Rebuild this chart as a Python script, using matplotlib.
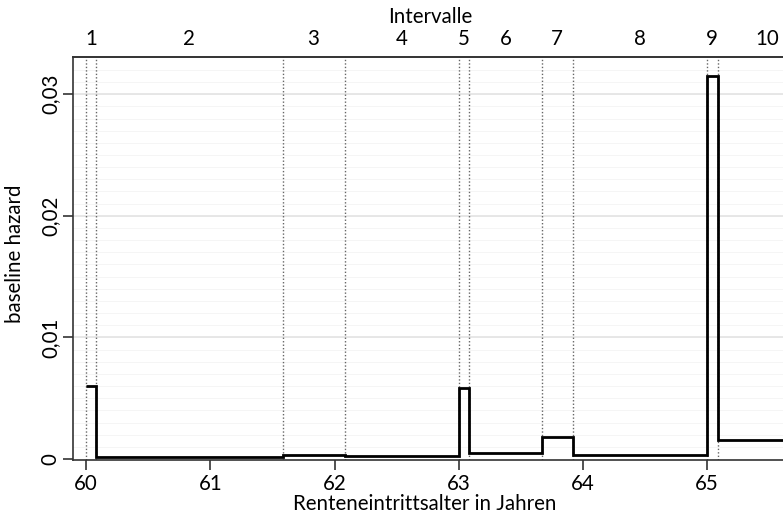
import matplotlib.pyplot as plt
import numpy as np

plt.rcParams['font.family'] = ['Lato', 'DejaVu Sans']

# Intervallgrenzen (Alter in Jahren) und geschaetzte baseline hazard je Intervall
edges = [60.0, 60.083, 61.583, 62.083, 63.0, 63.083, 63.667, 63.917, 65.0, 65.083, 66.0]
hazard = [0.0060, 0.0002, 0.00035, 0.00025, 0.0058, 0.0005, 0.0018, 0.0003, 0.0315, 0.0016]
interval_labels = ["1", "2", "3", "4", "5", "6", "7", "8", "9", "10"]
interval_pos = [60.04, 60.83, 61.83, 62.54, 63.04, 63.38, 63.79, 64.46, 65.04, 65.48]
xticks = [60, 61, 62, 63, 64, 65]
yticks = [0, 0.01, 0.02, 0.03]
yticklabels = ["0", "0,01", "0,02", "0,03"]

fs = 14.8
W, H = 783, 522

fig = plt.figure(figsize=(7.83, 5.22), dpi=100)
ax = fig.add_axes([73 / W, 62 / H, 1 - 73 / W, (460 - 57) / H])

ax.set_xlim(59.895, 65.61)
ax.set_ylim(-0.00008, 0.03306)

# feine Hilfslinien
for y in np.arange(0.001, 0.033, 0.001):
    ax.axhline(y, color='#f4f4f4', lw=0.6, zorder=0)
for y in yticks[1:]:
    ax.axhline(y, color='#e3e3e3', lw=1.2, zorder=0)

for e in edges[:-1]:
    ax.axvline(e, color='#666666', lw=1.0, ls=(0, (1, 1.5)), zorder=1)

ax.stairs(hazard, edges, baseline=None, color='black', lw=2, zorder=3)

ax.set_xticks(xticks)
ax.set_xticklabels([str(t) for t in xticks])
ax.set_yticks(yticks)
ax.set_yticklabels(yticklabels, rotation=90, va='center')
ax.tick_params(axis='both', labelsize=fs, length=7, width=1.2, color='#333333')
ax.tick_params(axis='x', pad=3)
ax.tick_params(axis='y', pad=2)
ax.set_xlabel("Renteneintrittsalter in Jahren", fontsize=fs)
ax.xaxis.set_label_coords((425 - 73) / (W - 73), -(504 - 460) / (460 - 57), transform=ax.transAxes)
ax.set_ylabel("baseline hazard", fontsize=fs)
ax.yaxis.set_label_coords(-(73 - 15) / (W - 73), (460 - 254) / (460 - 57), transform=ax.transAxes)
ax.xaxis.label.set_va('center')
ax.yaxis.label.set_va('center')

ax.spines['right'].set_visible(False)
for side in ['left', 'bottom', 'top']:
    ax.spines[side].set_color('#333333')
    ax.spines[side].set_linewidth(1.2)

top = ax.twiny()
top.set_xlim(ax.get_xlim())
top.set_xticks(interval_pos)
top.set_xticklabels(interval_labels)
top.tick_params(axis='x', length=0, labelsize=fs, pad=6)
for side in ['left', 'right', 'bottom']:
    top.spines[side].set_visible(False)
top.spines['top'].set_color('#333333')
top.spines['top'].set_linewidth(1.2)

fig.text(430 / W, 1 - 17 / H, "Intervalle", ha='center', va='center', fontsize=fs)

fig.savefig("out.png", dpi=100)
